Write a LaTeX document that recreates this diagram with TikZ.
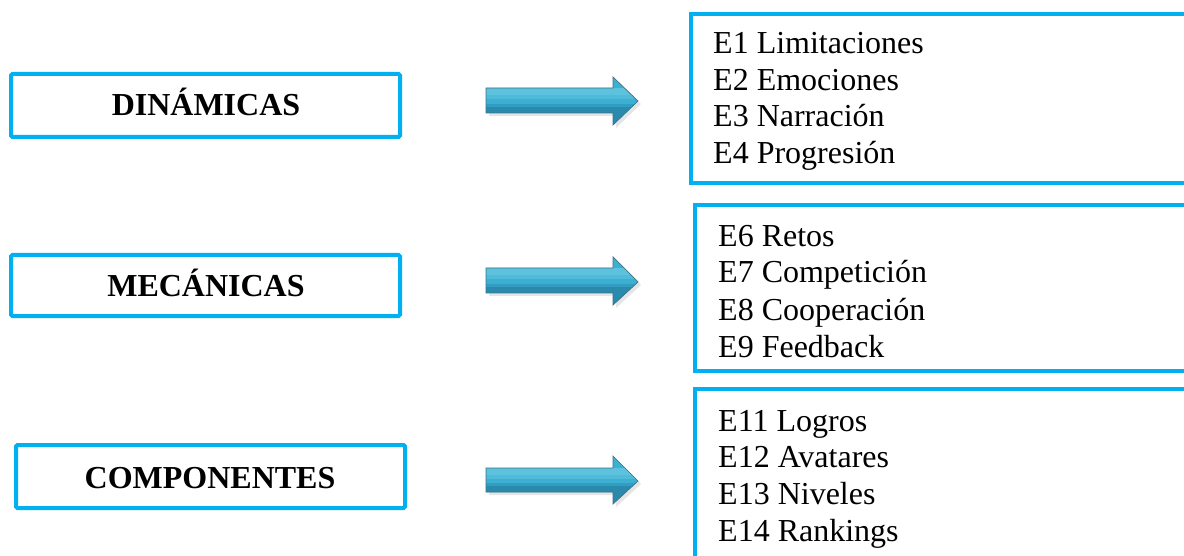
\documentclass[tikz,border=0pt]{standalone}
\usepackage{fontspec}
\setmainfont{Liberation Serif}
\definecolor{boxblue}{HTML}{00B0F0}
\definecolor{arrtop}{HTML}{5CC2DE}
\definecolor{arrmid}{HTML}{3BB0D2}
\definecolor{arrbot}{HTML}{2A8AAE}
\definecolor{arredge}{HTML}{3E7486}
\tikzset{
  catbox/.style={draw=boxblue,line width=4pt,rounded corners=1.5pt},
  listbox/.style={draw=boxblue,line width=4pt},
  catlabel/.style={font=\fontsize{32}{36}\selectfont\bfseries,anchor=base,inner sep=0pt},
  item/.style={font=\fontsize{32}{36}\selectfont,anchor=base west,inner sep=0pt},
  fatarrow/.style={draw=arredge,line width=0.7pt,line join=miter},
  arrshadow/.style={fill=black,opacity=0.10}
}
\begin{document}
\begin{tikzpicture}[x=1pt,y=-1pt]
\useasboundingbox (0,0) rectangle (1184,556);
\fill[white] (0,0) rectangle (1184,556);
\clip (0,0) rectangle (1184,556);

% left category boxes
\draw[catbox] (11,74) rectangle (400,137);
\node[catlabel] (din) at (206,116) {DINÁMICAS};
\draw[catbox] (11,255) rectangle (400,316);
\node[catlabel] (mec) at (206,297) {MECÁNICAS};
\draw[catbox] (16,445) rectangle (405,508);
\node[catlabel] (com) at (210,488) {COMPONENTES};

% right list boxes (open to the right)
\draw[listbox] (1200,14) -- (691,14) -- (691,183) -- (1200,183);
\draw[listbox] (1200,205) -- (695,205) -- (695,371) -- (1200,371);
\draw[listbox] (1200,389) -- (695,389) -- (695,580);

% items
\node[item] (e1) at (713,54) {E1 Limitaciones};
\node[item] (e2) at (713,91) {E2 Emociones};
\node[item] (e3) at (713,127) {E3 Narración};
\node[item] (e4) at (713,164) {E4 Progresión};

\node[item] (e6) at (718,247) {E6 Retos};
\node[item] (e7) at (718,283) {E7 Competición};
\node[item] (e8) at (718,320) {E8 Cooperación};
\node[item] (e9) at (718,357) {E9 Feedback};

\node[item] (e11) at (718,431) {E11 Logros};
\node[item] (e12) at (718,467) {E12 Avatares};
\node[item] (e13) at (718,504) {E13 Niveles};
\node[item] (e14) at (718,541) {E14 Rankings};

% block arrows
\foreach \st/\sb/\ht/\hb/\tip in {88/113/77/125/101, 268/293/257/305/282, 468/492/456/504/481}{
  \fill[arrshadow] (489,\st+3) -- (616,\st+3) -- (616,\ht+3) -- (641,\tip+3) -- (616,\hb+3) -- (616,\sb+3) -- (489,\sb+3) -- cycle;
  \begin{scope}
    \clip (486,\st) -- (613,\st) -- (613,\ht) -- (638,\tip) -- (613,\hb) -- (613,\sb) -- (486,\sb) -- cycle;
    \fill[arrmid] (480,\ht-2) rectangle (645,\hb+2);
    \fill[arrtop] (480,\st) rectangle (645,\st+7);
    \fill[arrtop!60!arrmid] (480,\st+7) rectangle (645,\st+11);
    \fill[arrbot] (480,\sb-6) rectangle (645,\hb+2);
    \fill[arrbot!50!arrmid] (480,\sb-9) rectangle (645,\sb-6);
  \end{scope}
  \draw[fatarrow] (486,\st) -- (613,\st) -- (613,\ht) -- (638,\tip) -- (613,\hb) -- (613,\sb) -- (486,\sb) -- cycle;
}
\end{tikzpicture}
\end{document}
